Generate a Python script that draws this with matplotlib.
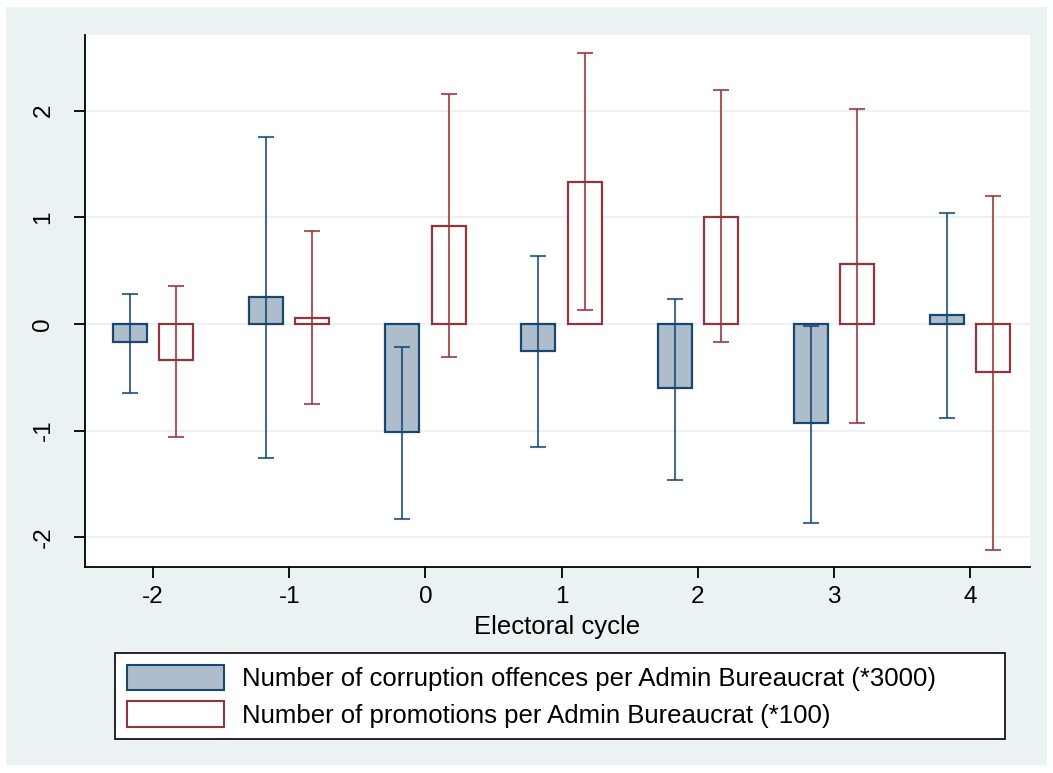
import numpy as np
import matplotlib.pyplot as plt
from matplotlib.patches import Rectangle, Patch

plt.rcParams['font.family'] = ['Liberation Sans', 'DejaVu Sans']
plt.rcParams['axes.unicode_minus'] = False

# ------------------------------------------------------
# Data
# ------------------------------------------------------
cycle = [-2, -1, 0, 1, 2, 3, 4]

corr_mean = [-0.17, 0.25, -1.01, -0.25, -0.60, -0.93, 0.08]
corr_hi = [0.28, 1.75, -0.22, 0.64, 0.23, -0.02, 1.04]
corr_lo = [-0.65, -1.26, -1.83, -1.15, -1.46, -1.87, -0.88]

promo_mean = [-0.34, 0.06, 0.92, 1.33, 1.00, 0.56, -0.45]
promo_hi = [0.36, 0.87, 2.16, 2.54, 2.19, 2.02, 1.20]
promo_lo = [-1.06, -0.75, -0.31, 0.13, -0.17, -0.93, -2.12]

lab_corr = "Number of corruption offences per Admin Bureaucrat (*3000)"
lab_promo = "Number of promotions per Admin Bureaucrat (*100)"

# couleurs style Stata s2color
BG = "#eaf2f3"
BLUE = "#1a476f"
BLUE_FILL = "#aebdcc"
RED = "#90353b"

W, H = 1053, 773
fig = plt.figure(figsize=(W / 100, H / 100), dpi=100, facecolor="white")
fig.patches.append(Rectangle((6 / W, 1 - 765 / H), (1047 - 6) / W, (765 - 7) / H,
                             transform=fig.transFigure, facecolor=BG,
                             edgecolor="none", zorder=-10))

ax = fig.add_axes([85 / W, 1 - 567 / H, (1030 - 85) / W, (567 - 35) / H])
ax.set_facecolor("white")

x = np.array(cycle, dtype=float)
bw = 0.25
off = 0.17

ax.bar(x - off, corr_mean, width=bw, color=BLUE_FILL, edgecolor=BLUE,
       linewidth=1.6, zorder=2)
ax.bar(x + off, promo_mean, width=bw, color="white", edgecolor=RED,
       linewidth=1.6, zorder=2)

ax.errorbar(x - off, corr_mean,
            yerr=[np.array(corr_mean) - np.array(corr_lo),
                  np.array(corr_hi) - np.array(corr_mean)],
            fmt="none", ecolor=BLUE, elinewidth=1.5, capsize=6, capthick=1.5,
            alpha=0.8, zorder=3)
ax.errorbar(x + off, promo_mean,
            yerr=[np.array(promo_mean) - np.array(promo_lo),
                  np.array(promo_hi) - np.array(promo_mean)],
            fmt="none", ecolor=RED, elinewidth=1.5, capsize=6, capthick=1.5,
            alpha=0.8, zorder=3)

ax.set_xlim(-2.5, 4.44)
ax.set_ylim(-2.28, 2.71)
ax.set_xticks(cycle)
ax.set_yticks([-2, -1, 0, 1, 2])
ax.set_yticklabels(["-2", "-1", "0", "1", "2"], rotation=90, va="center")
ax.tick_params(axis="both", length=8, width=1.3, labelsize=17.5)
ax.tick_params(axis="x", pad=6)
ax.tick_params(axis="y", pad=14)
ax.grid(axis="y", color=BG, linewidth=1.5, zorder=0)
ax.set_axisbelow(True)

for s in ["top", "right"]:
    ax.spines[s].set_visible(False)
for s in ["left", "bottom"]:
    ax.spines[s].set_linewidth(1.3)

ax.set_xlabel("Electoral cycle", fontsize=18.5, labelpad=5)

handles = [Patch(facecolor=BLUE_FILL, edgecolor=BLUE, linewidth=1.5),
           Patch(facecolor="white", edgecolor=RED, linewidth=1.5)]
leg = fig.legend(handles, [lab_corr, lab_promo],
                 loc="upper left",
                 bbox_to_anchor=(115 / W, 1 - 740 / H, (1005 - 115) / W, 87 / H),
                 mode="expand",
                 fontsize=18.5, frameon=True, fancybox=False, framealpha=1,
                 handlelength=3.8, handleheight=1.15, handletextpad=0.7,
                 labelspacing=0.4, borderpad=0.45, borderaxespad=0)
leg.get_frame().set_edgecolor("black")
leg.get_frame().set_linewidth(1.2)

plt.savefig("out.png", dpi=100, facecolor="white")
